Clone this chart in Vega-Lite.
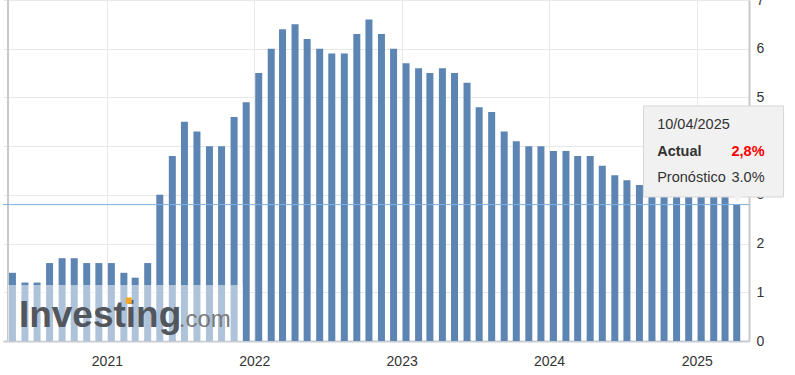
{
  "$schema": "https://vega.github.io/schema/vega-lite/v6.json",
  "width": 746,
  "height": 341,
  "autosize": {"type": "none"},
  "padding": {"left": 3, "top": 0, "right": 46, "bottom": 34},
  "config": {
    "view": {"stroke": null},
    "font": "Liberation Sans",
    "axis": {"labelFont": "Liberation Sans", "labelFontSize": 14, "labelColor": "#333333", "gridColor": "#e8e8e8", "gridWidth": 1, "ticks": false, "title": null}
  },
  "datasets": {
    "cpi": [
      {"date": "2020-05-12", "value": 1.4},
      {"date": "2020-06-12", "value": 1.2},
      {"date": "2020-07-12", "value": 1.2},
      {"date": "2020-08-12", "value": 1.6},
      {"date": "2020-09-12", "value": 1.7},
      {"date": "2020-10-12", "value": 1.7},
      {"date": "2020-11-12", "value": 1.6},
      {"date": "2020-12-12", "value": 1.6},
      {"date": "2021-01-12", "value": 1.6},
      {"date": "2021-02-12", "value": 1.4},
      {"date": "2021-03-12", "value": 1.3},
      {"date": "2021-04-12", "value": 1.6},
      {"date": "2021-05-12", "value": 3.0},
      {"date": "2021-06-12", "value": 3.8},
      {"date": "2021-07-12", "value": 4.5},
      {"date": "2021-08-12", "value": 4.3},
      {"date": "2021-09-12", "value": 4.0},
      {"date": "2021-10-12", "value": 4.0},
      {"date": "2021-11-12", "value": 4.6},
      {"date": "2021-12-12", "value": 4.9},
      {"date": "2022-01-12", "value": 5.5},
      {"date": "2022-02-12", "value": 6.0},
      {"date": "2022-03-12", "value": 6.4},
      {"date": "2022-04-12", "value": 6.5},
      {"date": "2022-05-12", "value": 6.2},
      {"date": "2022-06-12", "value": 6.0},
      {"date": "2022-07-12", "value": 5.9},
      {"date": "2022-08-12", "value": 5.9},
      {"date": "2022-09-12", "value": 6.3},
      {"date": "2022-10-12", "value": 6.6},
      {"date": "2022-11-12", "value": 6.3},
      {"date": "2022-12-12", "value": 6.0},
      {"date": "2023-01-12", "value": 5.7},
      {"date": "2023-02-12", "value": 5.6},
      {"date": "2023-03-12", "value": 5.5},
      {"date": "2023-04-12", "value": 5.6},
      {"date": "2023-05-12", "value": 5.5},
      {"date": "2023-06-12", "value": 5.3},
      {"date": "2023-07-12", "value": 4.8},
      {"date": "2023-08-12", "value": 4.7},
      {"date": "2023-09-12", "value": 4.3},
      {"date": "2023-10-12", "value": 4.1},
      {"date": "2023-11-12", "value": 4.0},
      {"date": "2023-12-12", "value": 4.0},
      {"date": "2024-01-12", "value": 3.9},
      {"date": "2024-02-12", "value": 3.9},
      {"date": "2024-03-12", "value": 3.8},
      {"date": "2024-04-12", "value": 3.8},
      {"date": "2024-05-12", "value": 3.6},
      {"date": "2024-06-12", "value": 3.4},
      {"date": "2024-07-12", "value": 3.3},
      {"date": "2024-08-12", "value": 3.2},
      {"date": "2024-09-12", "value": 3.2},
      {"date": "2024-10-12", "value": 3.3},
      {"date": "2024-11-12", "value": 3.3},
      {"date": "2024-12-12", "value": 3.3},
      {"date": "2025-01-12", "value": 3.2},
      {"date": "2025-02-12", "value": 3.3},
      {"date": "2025-03-12", "value": 3.1},
      {"date": "2025-04-10", "value": 2.8}
    ],
    "overlay": [
      {"start": "2020-05-01", "end": "2021-12-04", "low": 0, "high": 1.15}
    ],
    "logo": [
      {"date": "2020-05-28", "value": 0.287, "label": "Investing", "part": "main"},
      {"date": "2021-06-28", "value": 0.287, "label": ".com", "part": "com"}
    ],
    "logodot": [
      {"date": "2021-02-24", "value": 0.83}
    ],
    "box": [
      {"start": "2024-08-22", "end": "2025-08-04", "low": 2.956, "high": 4.825}
    ],
    "boxtext": [
      {"date": "2024-09-25", "value": 4.434, "label": "10/04/2025", "kind": "date"},
      {"date": "2024-09-25", "value": 3.87, "label": "Actual", "kind": "actual"},
      {"date": "2024-09-25", "value": 3.346, "label": "Pronóstico", "kind": "plain"}
    ],
    "boxvals": [
      {"date": "2025-06-18", "value": 3.87, "label": "2,8%", "kind": "actual"},
      {"date": "2025-06-18", "value": 3.346, "label": "3.0%", "kind": "forecast"}
    ],
    "pointer": [
      {"date": "2025-04-12", "value": 2.93}
    ],
    "edge": [
      {"date": "2020-05-01"}
    ],
    "latest": [
      {"value": 2.8}
    ]
  },
  "layer": [
    {
      "data": {"name": "cpi"},
      "mark": {"type": "bar", "size": 7},
      "encoding": {
        "x": {
          "field": "date", "type": "temporal", "title": null,
          "scale": {"domain": [{"year": 2020, "month": 5, "date": 1}, {"year": 2025, "month": 4, "date": 28}]},
          "axis": {
            "values": [{"year": 2021, "month": 1, "date": 1}, {"year": 2022, "month": 1, "date": 1}, {"year": 2023, "month": 1, "date": 1}, {"year": 2024, "month": 1, "date": 1}, {"year": 2025, "month": 1, "date": 1}],
            "format": "%Y", "grid": true, "domainColor": "#c8ccd2", "domainWidth": 2, "labelPadding": 13, "labelFlush": false
          }
        },
        "y": {
          "field": "value", "type": "quantitative", "title": null,
          "scale": {"domain": [0, 7], "nice": false},
          "axis": {"orient": "right", "values": [0, 1, 2, 3, 4, 5, 6, 7], "labelExpr": "datum.value == 4 ? '' : datum.label", "grid": true, "domainColor": "#c8c8c8", "domainWidth": 2, "labelPadding": 7, "labelFlush": false, "labelBaseline": "middle"}
        },
        "color": {"condition": {"test": "datum.date === '2025-04-10'", "value": "#7aa0c9"}, "value": "#5d85b3"}
      }
    },
    {
      "data": {"name": "edge"},
      "mark": {"type": "rule", "color": "#c8c8c8", "strokeWidth": 2},
      "encoding": {"x": {"field": "date", "type": "temporal", "title": null}}
    },
    {
      "data": {"name": "latest"},
      "mark": {"type": "rule", "color": "#7fb0e0", "strokeWidth": 1},
      "encoding": {"y": {"field": "value", "type": "quantitative", "title": null}}
    },
    {
      "data": {"name": "overlay"},
      "mark": {"type": "rect", "color": "#ffffff", "opacity": 0.5},
      "encoding": {
        "x": {"field": "start", "type": "temporal", "title": null},
        "x2": {"field": "end"},
        "y": {"field": "low", "type": "quantitative", "title": null},
        "y2": {"field": "high"}
      }
    },
    {
      "data": {"name": "logo"},
      "transform": [{"filter": "datum.part === 'main'"}],
      "mark": {"type": "text", "align": "left", "baseline": "alphabetic", "fontSize": 37, "fontWeight": "bold", "color": "#52575d", "font": "Liberation Sans"},
      "encoding": {
        "x": {"field": "date", "type": "temporal", "title": null},
        "y": {"field": "value", "type": "quantitative", "title": null},
        "text": {"field": "label"}
      }
    },
    {
      "data": {"name": "logo"},
      "transform": [{"filter": "datum.part === 'com'"}],
      "mark": {"type": "text", "align": "left", "baseline": "alphabetic", "fontSize": 24, "color": "#7a7a7a", "font": "Liberation Sans"},
      "encoding": {
        "x": {"field": "date", "type": "temporal", "title": null},
        "y": {"field": "value", "type": "quantitative", "title": null},
        "text": {"field": "label"}
      }
    },
    {
      "data": {"name": "logodot"},
      "mark": {"type": "point", "shape": "square", "filled": true, "size": 38, "color": "#f5a623", "opacity": 1},
      "encoding": {
        "x": {"field": "date", "type": "temporal", "title": null},
        "y": {"field": "value", "type": "quantitative", "title": null}
      }
    },
    {
      "data": {"name": "box"},
      "mark": {"type": "rect", "color": "#f1f1f1", "stroke": "#d6d6d6", "strokeWidth": 1, "clip": false},
      "encoding": {
        "x": {"field": "start", "type": "temporal", "title": null},
        "x2": {"field": "end"},
        "y": {"field": "low", "type": "quantitative", "title": null},
        "y2": {"field": "high"}
      }
    },
    {
      "data": {"name": "pointer"},
      "mark": {"type": "point", "shape": "triangle-down", "filled": true, "size": 90, "color": "#f1f1f1", "opacity": 1},
      "encoding": {
        "x": {"field": "date", "type": "temporal", "title": null},
        "y": {"field": "value", "type": "quantitative", "title": null}
      }
    },
    {
      "data": {"name": "boxtext"},
      "transform": [{"filter": "datum.kind !== 'actual'"}],
      "mark": {"type": "text", "align": "left", "baseline": "middle", "fontSize": 14.5, "color": "#333333", "font": "Liberation Sans"},
      "encoding": {
        "x": {"field": "date", "type": "temporal", "title": null},
        "y": {"field": "value", "type": "quantitative", "title": null},
        "text": {"field": "label"}
      }
    },
    {
      "data": {"name": "boxtext"},
      "transform": [{"filter": "datum.kind === 'actual'"}],
      "mark": {"type": "text", "align": "left", "baseline": "middle", "fontSize": 14.5, "fontWeight": "bold", "color": "#333333", "font": "Liberation Sans"},
      "encoding": {
        "x": {"field": "date", "type": "temporal", "title": null},
        "y": {"field": "value", "type": "quantitative", "title": null},
        "text": {"field": "label"}
      }
    },
    {
      "data": {"name": "boxvals"},
      "transform": [{"filter": "datum.kind === 'actual'"}],
      "mark": {"type": "text", "align": "right", "baseline": "middle", "fontSize": 14.5, "fontWeight": "bold", "color": "#ff0000", "font": "Liberation Sans", "clip": false},
      "encoding": {
        "x": {"field": "date", "type": "temporal", "title": null},
        "y": {"field": "value", "type": "quantitative", "title": null},
        "text": {"field": "label"}
      }
    },
    {
      "data": {"name": "boxvals"},
      "transform": [{"filter": "datum.kind !== 'actual'"}],
      "mark": {"type": "text", "align": "right", "baseline": "middle", "fontSize": 14.5, "color": "#333333", "font": "Liberation Sans", "clip": false},
      "encoding": {
        "x": {"field": "date", "type": "temporal", "title": null},
        "y": {"field": "value", "type": "quantitative", "title": null},
        "text": {"field": "label"}
      }
    }
  ]
}
